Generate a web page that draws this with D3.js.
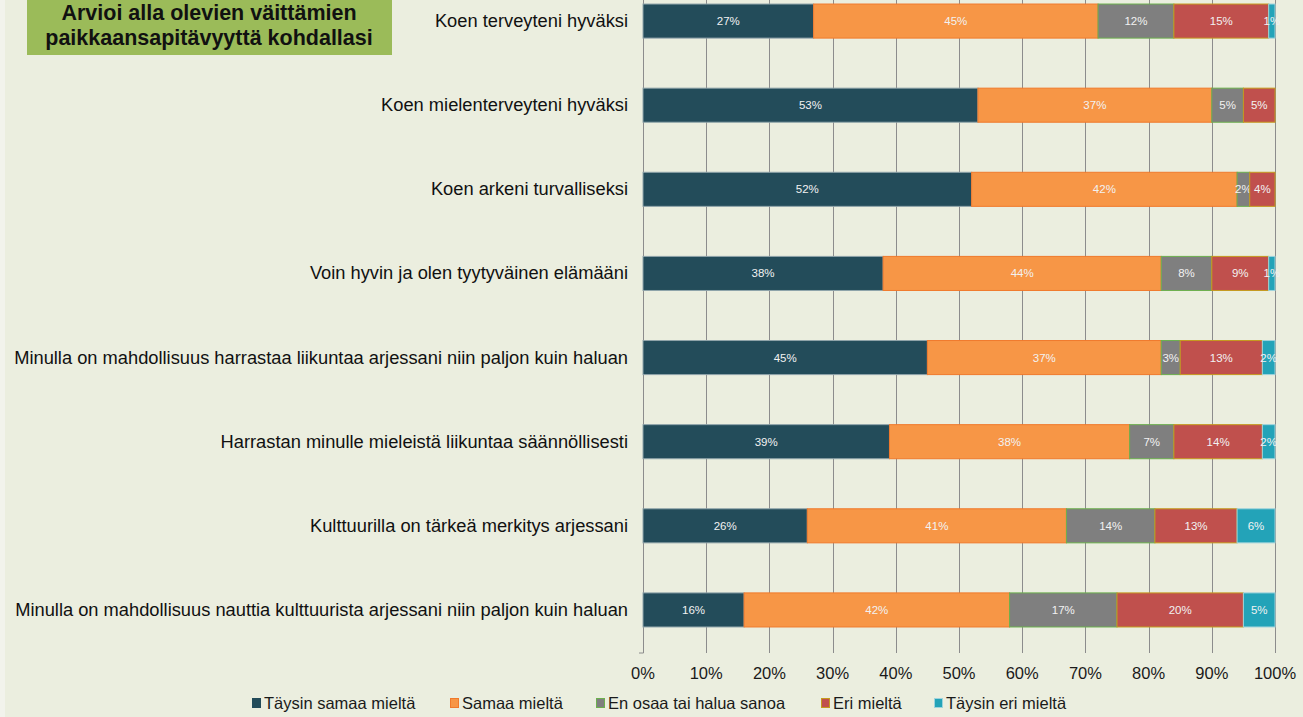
<!DOCTYPE html>
<html>
<head>
<meta charset="utf-8">
<script src="https://cdn.jsdelivr.net/npm/d3@7"></script>
<style>
  body { margin: 0; background: #ebeedf; }
  svg { display: block; }
</style>
</head>
<body>
<div id="chart"></div>
<script>
// statements (top to bottom)
var categories = [
  "Koen terveyteni hyväksi",
  "Koen mielenterveyteni hyväksi",
  "Koen arkeni turvalliseksi",
  "Voin hyvin ja olen tyytyväinen elämääni",
  "Minulla on mahdollisuus harrastaa liikuntaa arjessani niin paljon kuin haluan",
  "Harrastan minulle mieleistä liikuntaa säännöllisesti",
  "Kulttuurilla on tärkeä merkitys arjessani",
  "Minulla on mahdollisuus nauttia kulttuurista arjessani niin paljon kuin haluan"
];

var series_names = ["Täysin samaa mieltä", "Samaa mieltä", "En osaa tai halua sanoa", "Eri mieltä", "Täysin eri mieltä"];

// values in percent, one array per series
var taysin_samaa = [27, 53, 52, 38, 45, 39, 26, 16];
var samaa = [45, 37, 42, 44, 37, 38, 41, 42];
var en_osaa = [12, 5, 2, 8, 3, 7, 14, 17];
var eri = [15, 5, 4, 9, 13, 14, 13, 20];
var taysin_eri = [1, 0, 0, 1, 2, 2, 6, 5];

var tick_values = [0, 10, 20, 30, 40, 50, 60, 70, 80, 90, 100];

var title_lines = ["Arvioi alla olevien väittämien", "paikkaansapitävyyttä kohdallasi"];

//colors
var fills = ["#234c5a", "#f79646", "#7f7f7f", "#c0504d", "#23a3b8"];
var strokes = ["#8fa4aa", "#f07a2c", "#6cb04e", "#c59a1e", "#9fd3dc"];
var bg = "#ebeedf";
var font = "Arial, 'Liberation Sans', sans-serif";

var width = 1303, height = 717;
var svg = d3.select("#chart").append("svg")
  .attr("width", width)
  .attr("height", height);

svg.append("rect").attr("width", width).attr("height", height).style("fill", bg);
svg.append("rect").attr("width", 5).attr("height", height).style("fill", "#f2f3ec");

var x_scale = d3.scaleLinear().domain([0, 100]).range([643, 1275]);
var y_scale = d3.scaleBand().domain(categories).range([-21, 652]).paddingInner(0.595).paddingOuter(0.2975);

// gridlines
svg.append("g").selectAll("line")
  .data(tick_values)
  .join("line")
  .attr("x1", d => Math.round(x_scale(d)) + 0.5)
  .attr("x2", d => Math.round(x_scale(d)) + 0.5)
  .attr("y1", 0)
  .attr("y2", 653)
  .style("stroke", "#8c8c8c")
  .style("stroke-width", 1);

svg.append("line")
  .attr("x1", x_scale(0) - 4).attr("x2", x_scale(0) + 0.5)
  .attr("y1", 653).attr("y2", 653)
  .style("stroke", "#8c8c8c");

// tick labels
svg.append("g").selectAll("text")
  .data(tick_values)
  .join("text")
  .attr("x", d => x_scale(d))
  .attr("y", 679)
  .attr("text-anchor", "middle")
  .style("font-family", font)
  .style("font-size", "16.5px")
  .style("fill", "#1a1a1a")
  .text(d => d + "%");

// stack the series
var all_series = [taysin_samaa, samaa, en_osaa, eri, taysin_eri];
var rows = categories.map((c, i) => {
  var row = { category: c };
  series_names.forEach((s, j) => { row[s] = all_series[j][i]; });
  return row;
});
var stacked = d3.stack().keys(series_names)(rows);

stacked.forEach((layer, j) => {
  var g = svg.append("g");
  g.selectAll("rect")
    .data(layer.filter(d => d[1] - d[0] > 0))
    .join("rect")
    .attr("x", d => x_scale(d[0]))
    .attr("y", d => y_scale(d.data.category))
    .attr("width", d => x_scale(d[1]) - x_scale(d[0]))
    .attr("height", y_scale.bandwidth())
    .style("fill", fills[j])
    .style("stroke", strokes[j])
    .style("stroke-width", 1);

  g.selectAll("text")
    .data(layer.filter(d => d[1] - d[0] > 0))
    .join("text")
    .attr("x", d => x_scale((d[0] + d[1]) / 2))
    .attr("y", d => y_scale(d.data.category) + y_scale.bandwidth() / 2 + 4)
    .attr("text-anchor", "middle")
    .style("font-family", font)
    .style("font-size", "11.5px")
    .style("fill", "#f2f2f2")
    .text(d => (d[1] - d[0]) + "%");
});

// category labels
svg.append("g").selectAll("text")
  .data(categories)
  .join("text")
  .attr("x", 628)
  .attr("y", d => y_scale(d) + y_scale.bandwidth() / 2 + 6)
  .attr("text-anchor", "end")
  .style("font-family", font)
  .style("font-size", "18.3px")
  .style("fill", "#111")
  .text(d => d);

// title box
svg.append("rect")
  .attr("x", 27).attr("y", -2)
  .attr("width", 365).attr("height", 57)
  .style("fill", "#9bbb59");

svg.append("g").selectAll("text")
  .data(title_lines)
  .join("text")
  .attr("x", 209)
  .attr("y", (d, i) => 20 + i * 25)
  .attr("text-anchor", "middle")
  .style("font-family", font)
  .style("font-weight", "bold")
  .style("font-size", "21.5px")
  .style("fill", "#111")
  .text(d => d);

// legend
var legend_x = [252, 450, 596, 821, 934];
var legend = svg.append("g");
series_names.forEach((s, j) => {
  legend.append("rect")
    .attr("x", legend_x[j] + 0.5)
    .attr("y", 698.5)
    .attr("width", 8)
    .attr("height", 9)
    .style("fill", fills[j])
    .style("stroke", j == 0 ? fills[j] : strokes[j]);
  legend.append("text")
    .attr("x", legend_x[j] + 12)
    .attr("y", 709)
    .style("font-family", font)
    .style("font-size", "16.5px")
    .style("fill", "#1a1a1a")
    .text(s);
});
</script>
</body>
</html>
